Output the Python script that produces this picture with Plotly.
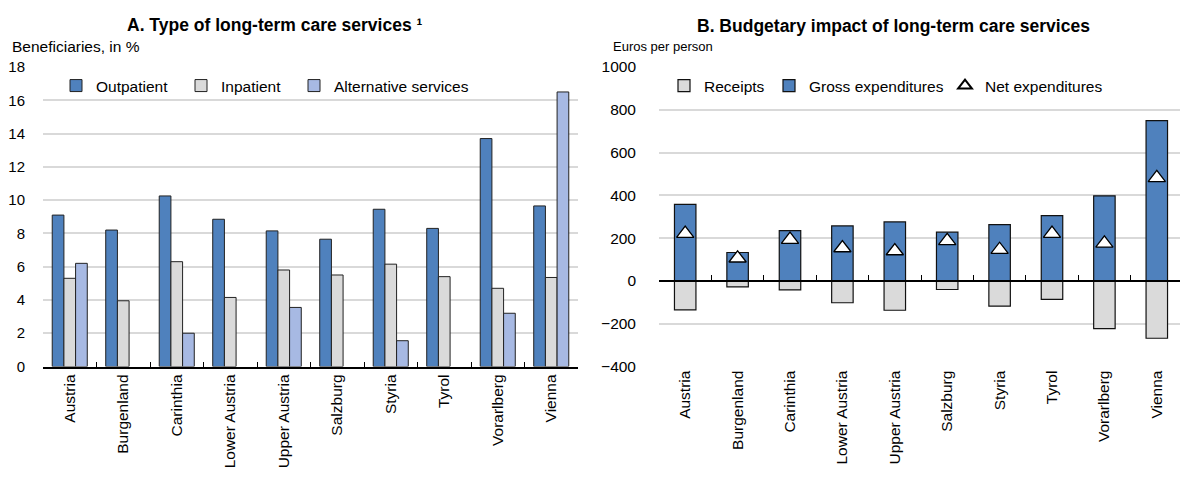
import plotly.graph_objects as go

regions = ["Austria", "Burgenland", "Carinthia", "Lower Austria", "Upper Austria",
           "Salzburg", "Styria", "Tyrol", "Vorarlberg", "Vienna"]

# Panel A: beneficiaries, in %
outpatient = [9.1, 8.2, 10.25, 8.85, 8.15, 7.65, 9.45, 8.3, 13.7, 9.65]
inpatient = [5.3, 3.95, 6.3, 4.15, 5.8, 5.5, 6.15, 5.4, 4.7, 5.35]
alternative = [6.2, None, 2.0, None, 3.55, None, 1.55, None, 3.2, 16.5]

# Panel B: euros per person
receipts = [-135, -28, -42, -102, -137, -40, -118, -86, -223, -268]
gross = [358, 133, 235, 257, 276, 228, 263, 305, 398, 749]
net = [221, 106, 193, 154, 140, 187, 146, 221, 176, 482]

FONT = "Liberation Sans, Arial, sans-serif"
FS = 15.5
BLUE = "#4F81BD"
GREY = "#DADADA"
LIGHT = "#A7B9E3"
GRID = "#D9D9D9"

W, H = 1188, 477
PAGE = 8  # page body margin in the browser


def px_x(p):
    return (p - PAGE) / W


def px_y(p):
    return 1 - (p - PAGE) / H


fig = go.Figure()

edge = dict(color="#222222", width=1)
fig.add_trace(go.Bar(x=regions, y=outpatient, name="Outpatient", marker=dict(color=BLUE, line=edge),
                     xaxis="x", yaxis="y", legend="legend"))
fig.add_trace(go.Bar(x=regions, y=inpatient, name="Inpatient", marker=dict(color=GREY, line=edge),
                     xaxis="x", yaxis="y", legend="legend2"))
fig.add_trace(go.Bar(x=regions, y=alternative, name="Alternative services", marker=dict(color=LIGHT, line=edge),
                     xaxis="x", yaxis="y", legend="legend3"))

edge2 = dict(color="#111111", width=1.2)
fig.add_trace(go.Bar(x=regions, y=receipts, name="Receipts", marker=dict(color=GREY, line=edge2),
                     width=0.41, offset=-0.205, xaxis="x2", yaxis="y2", legend="legend4"))
fig.add_trace(go.Bar(x=regions, y=gross, name="Gross expenditures", marker=dict(color=BLUE, line=edge2),
                     width=0.41, offset=-0.205, xaxis="x2", yaxis="y2", legend="legend5"))
fig.add_trace(go.Scatter(x=regions, y=net, name="Net expenditures", mode="markers",
                         marker=dict(symbol="triangle-up", size=15, color="white",
                                     line=dict(color="black", width=1.3)),
                         xaxis="x3", yaxis="y2", legend="legend6"))

ydom = [px_y(366.5), px_y(67)]
zero_pos = ydom[0] + (400 / 1400) * (ydom[1] - ydom[0])
tickfont = dict(family=FONT, size=FS, color="black")
xdom1 = [px_x(43), px_x(578)]
xdom2 = [px_x(659), px_x(1183)]


def leg(text_start, y=86, sizing="trace"):
    return dict(orientation="h", x=px_x(text_start - 39), y=px_y(y), xanchor="left", yanchor="middle",
                bgcolor="rgba(0,0,0,0)", font=dict(family=FONT, size=FS), itemclick=False,
                itemdoubleclick=False, itemsizing=sizing, borderwidth=0)


fig.update_layout(
    template="none",
    width=W, height=H,
    margin=dict(l=0, r=0, t=0, b=0, pad=0),
    paper_bgcolor="white", plot_bgcolor="white",
    barmode="group", bargap=0.345, bargroupgap=0,
    font=dict(family=FONT, size=FS, color="black"),
    showlegend=True,
    xaxis=dict(domain=xdom1, anchor="y", type="category", range=[-0.5, 9.5], automargin=False,
               showline=True, linecolor="black", linewidth=1.5, ticks="inside", tickson="boundaries",
               ticklen=5, tickwidth=1.3, tickcolor="black", tickangle=-90, tickfont=tickfont,
               showgrid=False, zeroline=False),
    yaxis=dict(domain=ydom, anchor="x", range=[0, 18], dtick=2, showgrid=True, gridcolor=GRID,
               gridwidth=1.5, zeroline=False, showline=False, ticks="",
               tickfont=dict(family=FONT, size=15, color="black"),
               automargin=False, ticklabelstandoff=17),
    xaxis2=dict(domain=xdom2, anchor="y2", type="category", range=[-0.5, 9.5], automargin=False,
                showline=False, ticks="", tickangle=-90, tickfont=tickfont, showgrid=False,
                zeroline=False),
    yaxis2=dict(domain=ydom, anchor="x2", range=[-400, 1000], dtick=200, showgrid=True, gridcolor=GRID,
                gridwidth=1.5, zeroline=False, showline=False, ticks="", tickfont=tickfont,
                automargin=False, ticklabelstandoff=22),
    xaxis3=dict(domain=xdom2, overlaying="x2", anchor="free", position=zero_pos, automargin=False,
                type="category", range=[-0.5, 9.5], showline=True, linecolor="black", linewidth=1.5,
                ticks="inside", tickson="boundaries", ticklen=5, tickwidth=1.3, tickcolor="black",
                showticklabels=False, showgrid=False, zeroline=False),
    legend=leg(95),
    legend2=leg(220),
    legend3=leg(333),
    legend4=leg(703),
    legend5=leg(808),
    legend6=leg(984, sizing="constant"),
    annotations=[
        dict(text="<b>A. Type of long-term care services ¹</b>", x=px_x(275), y=px_y(25),
             xref="paper", yref="paper", showarrow=False, xanchor="center", yanchor="middle",
             font=dict(family=FONT, size=17.5)),
        dict(text="<b>B. Budgetary impact of long-term care services</b>", x=px_x(893), y=px_y(26),
             xref="paper", yref="paper", showarrow=False, xanchor="center", yanchor="middle",
             font=dict(family=FONT, size=17.5)),
        dict(text="Beneficiaries, in %", x=px_x(10), y=px_y(47), xref="paper", yref="paper",
             showarrow=False, xanchor="left", yanchor="middle", font=dict(family=FONT, size=FS)),
        dict(text="Euros per person", x=px_x(611), y=px_y(46), xref="paper", yref="paper",
             showarrow=False, xanchor="left", yanchor="middle", font=dict(family=FONT, size=13)),
    ],
)

fig.write_html("out.html")
